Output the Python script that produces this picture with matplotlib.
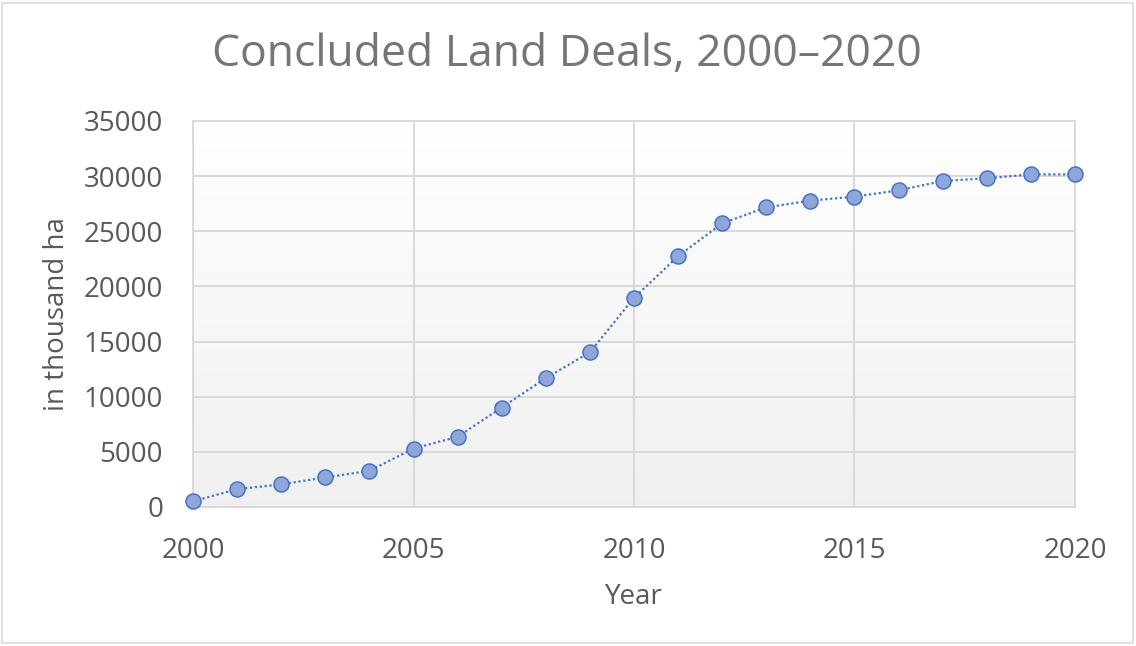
import numpy as np
import matplotlib
matplotlib.use("Agg")
import matplotlib.pyplot as plt
from matplotlib.patches import Rectangle

plt.rcParams['font.family'] = ['Open Sans', 'DejaVu Sans']

years = list(range(2000, 2021))
area = [510, 1620, 2050, 2680, 3280, 5300, 6360, 9020, 11680, 14030,
        18960, 22740, 25720, 27170, 27780, 28140, 28710, 29560, 29800, 30160, 30160]
x_ticks = [2000, 2005, 2010, 2015, 2020]
y_ticks = [0, 5000, 10000, 15000, 20000, 25000, 30000, 35000]

title = "Concluded Land Deals, 2000\u20132020"
x_label = "Year"
y_label = "in thousand ha"

fig = plt.figure(figsize=(11.36, 6.46), dpi=100)
fig.patch.set_facecolor("white")
# outer border
fig.add_artist(Rectangle((0.002, 0.004), 0.995, 0.992, transform=fig.transFigure,
                         fill=False, edgecolor="#d9d9d9", linewidth=1.2))

ax = fig.add_axes([0.1699, 0.2152, 0.7764, 0.5975])

# gradient background (white at top to light gray at bottom)
grad = np.linspace(1.0, 0.0, 256).reshape(-1, 1)
top = np.array([1.0, 1.0, 1.0])
bot = np.array([0.94, 0.94, 0.94])
img = grad[..., None] * top + (1 - grad[..., None]) * bot
ax.imshow(img, extent=[0, 1, 0, 1], transform=ax.transAxes, aspect="auto", zorder=0)

ax.plot(years, area, linestyle=(0, (1, 1.2)), color="#4472C4", linewidth=1.6,
        marker="o", markersize=10.8, markerfacecolor="#8FA6DA",
        markeredgecolor="#4472C4", markeredgewidth=1.1, zorder=3, clip_on=False)

ax.set_xlim(2000, 2020)
ax.set_ylim(0, 35000)
ax.set_xticks(x_ticks)
ax.set_yticks(y_ticks)
ax.grid(True, color="#d9d9d9", linewidth=1.4, zorder=1)
ax.set_axisbelow(True)
for s in ax.spines.values():
    s.set_color("#d9d9d9")
    s.set_linewidth(1.4)
ax.tick_params(length=0, labelsize=20, labelcolor="#595959")
ax.tick_params(axis="x", pad=21.5)
ax.tick_params(axis="y", pad=21.5)

ax.set_xlabel(x_label, fontsize=20, color="#595959", va="center", ha="center")
ax.xaxis.set_label_coords(0.5, (507 - 597) / 386)
ax.set_ylabel(y_label, fontsize=20, color="#595959", va="center", ha="center")
ax.yaxis.set_label_coords((57 - 193) / 882, 0.5)

fig.text(0.499, 0.916, title, ha="center", va="center", fontsize=32, color="#757575")

fig.savefig("out.png", dpi=100)
